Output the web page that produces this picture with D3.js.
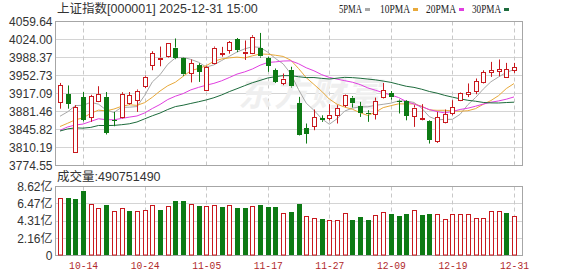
<!DOCTYPE html>
<html><head><meta charset="utf-8">
<script src="https://cdn.jsdelivr.net/npm/d3@7"></script>
<style>body{margin:0;background:#fff}svg{display:block}</style>
</head><body><svg id="c" width="578" height="276"></svg>
<script>
const dates = ["10-09","10-10","10-13","10-14","10-15","10-16","10-17","10-20","10-21","10-22","10-23","10-24","10-27","10-28","10-29","10-30","10-31",
"11-03","11-04","11-05","11-06","11-07","11-10","11-11","11-12","11-13","11-14","11-17","11-18","11-19","11-20","11-21","11-24","11-25","11-26","11-27","11-28",
"12-01","12-02","12-03","12-04","12-05","12-08","12-09","12-10","12-11","12-12","12-15","12-16","12-17","12-18","12-19","12-22","12-23","12-24","12-25","12-26","12-29","12-30","12-31"];
const open = [3900,3915.5,3802,3910,3870,3902.5,3910.4,3864.5,3870.7,3897.3,3905,3931.5,3973,3985.5,3991,4008,3986.4,3958,3973,3925,3977.7,3995,4003,4024.5,3998,3997.5,4007,3987,3963.5,3937,3964,3898.5,3848,3852.3,3868,3869.5,3874,3894,3909,3892,3879,3876,3910.4,3918.3,3903,3902.4,3872,3866,3862,3823.2,3861,3878.6,3903.8,3917,3922.3,3939,3959.8,3962,3950,3964.6];
const high = [3938,3933,3894,3920,3914.5,3931.5,3920,3880.6,3919.6,3920,3925,3952.5,4000.8,4010,4017,4026,3988,3984.4,3977,3971,4010,4009.4,4021,4027,4022,4032.5,4037,3990,3966.6,3956.7,3970,3910.4,3857.7,3885.4,3874,3896,3894,3915,3912,3900.5,3884,3909,3938,3922,3905,3904,3894,3896,3864,3880.6,3885.4,3903.8,3919,3937,3946.8,3963,3979.7,3984.4,3977.7,3977.7];
const low = [3887,3887,3800,3862,3861,3900,3836,3852.3,3868,3895,3880.6,3928,3963.2,3971,3988.3,3985,3952,3939,3940,3923,3975,3990,3996,3999,3983.5,3995,3988,3960,3938,3933.5,3929,3834,3818,3844.4,3861,3864,3857.7,3890,3889.3,3870.7,3861,3865.6,3907.2,3905,3877.5,3864,3851,3864,3818,3819.3,3858,3874,3902,3910,3915.7,3937,3950,3951.3,3948,3957.9];
const close = [3933.97,3897.03,3889.50,3865.23,3912.21,3916.23,3839.76,3863.89,3916.33,3913.76,3922.41,3950.31,3996.94,3988.22,4016.33,3986.90,3954.79,3976.52,3960.19,3969.25,4007.76,3997.56,4018.60,4002.76,4000.14,4029.50,3990.49,3972.03,3939.81,3946.74,3931.05,3834.89,3836.77,3870.02,3864.18,3875.26,3888.60,3914.01,3897.71,3878.00,3875.79,3902.81,3924.08,3909.52,3900.50,3873.32,3889.35,3867.92,3824.81,3870.28,3876.37,3890.45,3917.36,3919.98,3940.95,3959.62,3963.68,3965.28,3965.12,3968.84];
// volume in 亿
const volume = [7.21,7.21,7.08,8.0,6.46,5.96,6.25,5.5,5.96,5.5,5.58,5.71,6.33,5.71,6.13,6.75,6.75,6.46,6.13,6.13,6.25,6.0,6.33,5.88,5.88,6.13,6.25,6.0,6.0,5.33,5.38,6.38,4.96,4.71,4.58,4.46,4.46,5.33,4.46,4.83,4.46,5.0,5.46,5.21,4.96,5.21,5.71,5.0,5.13,5.13,4.58,5.13,5.21,5.21,4.71,4.71,5.58,5.58,5.25,4.9075149];
// 1 = up day (red), 0 = down day (green)
const volUp = [1,0,0,0,1,1,0,1,1,0,1,1,1,0,1,0,0,1,0,1,1,0,1,0,0,1,0,0,0,1,0,0,1,1,0,1,1,1,0,0,0,1,1,0,0,0,1,0,0,1,1,1,1,1,1,1,1,1,0,1];
const ma5 = [3872.1,3880.9,3893.2,3893.7,3899.6,3896.0,3884.6,3879.5,3889.7,3890.0,3891.2,3913.3,3940.0,3954.3,3974.8,3987.7,3988.6,3984.6,3979.0,3969.5,3973.7,3982.3,3990.7,3999.2,4005.4,4009.7,4008.3,3999.0,3986.4,3975.7,3956.0,3924.9,3897.9,3883.9,3867.4,3856.2,3867.0,3882.4,3888.0,3890.7,3890.8,3893.7,3895.7,3898.0,3902.5,3902.1,3899.4,3888.1,3871.2,3865.1,3865.8,3866.0,3875.9,3894.9,3909.0,3925.7,3940.3,3949.9,3958.9,3964.5];
const ma10 = [3851.7,3858.2,3865.1,3868.8,3877.8,3884.1,3882.7,3886.3,3891.7,3894.8,3893.6,3899.0,3909.7,3922.0,3932.4,3939.5,3951.0,3962.3,3966.6,3972.2,3980.7,3985.5,3987.6,3989.1,3987.5,3991.7,3995.3,3994.8,3992.8,3990.5,3982.9,3966.6,3948.4,3935.1,3921.6,3906.1,3895.9,3890.1,3885.9,3879.1,3873.5,3880.3,3889.1,3893.0,3896.6,3896.4,3896.5,3891.9,3884.6,3883.8,3883.9,3882.7,3882.0,3883.0,3887.1,3895.7,3903.1,3912.9,3926.9,3936.8];
const ma20 = [3844.3,3850.9,3854.7,3856.6,3861.9,3867.1,3865.3,3865.0,3867.7,3870.3,3872.6,3878.6,3887.4,3895.4,3905.1,3911.8,3916.9,3924.3,3929.2,3933.5,3937.2,3942.2,3948.7,3955.5,3959.9,3965.6,3973.1,3978.5,3979.7,3981.4,3981.8,3976.0,3968.0,3962.1,3954.5,3948.9,3945.6,3942.5,3939.4,3934.8,3928.2,3923.5,3918.7,3914.1,3909.1,3901.3,3896.2,3891.0,3885.3,3881.4,3878.7,3881.5,3885.5,3888.0,3891.9,3896.1,3899.8,3902.4,3905.8,3910.3];
const ma30 = [3842.8,3847.0,3849.1,3848.5,3850.0,3853.8,3853.7,3853.9,3855.3,3857.1,3860.7,3866.9,3873.0,3878.4,3885.4,3891.2,3893.9,3897.4,3900.7,3904.3,3908.7,3914.2,3920.8,3926.6,3932.6,3938.4,3943.0,3947.8,3950.4,3952.5,3952.4,3950.3,3948.6,3948.7,3947.1,3945.8,3947.4,3949.1,3948.5,3947.3,3945.7,3944.1,3941.7,3939.1,3935.2,3931.4,3929.2,3925.6,3921.1,3917.8,3913.4,3909.9,3906.5,3903.7,3901.8,3899.4,3898.5,3898.3,3899.2,3899.9];
const priceTicks = [4059.64,4024.00,3988.37,3952.73,3917.09,3881.46,3845.82,3810.19,3774.55];
const volTicks = [8.62,6.47,4.31,2.16,0];
const xTickDates = ["10-14","10-24","11-05","11-17","11-27","12-09","12-19","12-31"];
const maNames = ["5PMA","10PMA","20PMA","30PMA"];
const titleText = "上证指数[000001] 2025-12-31 15:00";
const volTitle = "成交量:490751490";

const RED = "#c8191e", GREEN = "#0d7a14";
const maColors = ["#a8a8a8","#e8a93a","#e03ee0","#1d6b3c"];
const maSeries = [ma5, ma10, ma20, ma30];

const svg = d3.select("#c");
const L = 55.5, R = 522.5, pT = 21.5, pB = 165.5, vT = 186.5, vB = 255.5;
const x = d3.scalePoint().domain(dates).range([60, 514]);
const y = d3.scaleLinear().domain([3774.55, 4059.64]).range([pB, pT]);
const yv = d3.scaleLinear().domain([0, 8.62]).range([vB, vT]);
const px = v => Math.round(v) + 0.5;

// horizontal grid
const g = svg.append("g");
g.selectAll("line.hp").data(priceTicks).join("line")
  .attr("x1", L).attr("x2", R).attr("y1", d => px(y(d)-0.5)).attr("y2", d => px(y(d)-0.5))
  .attr("stroke", "#d4d4d4");
g.selectAll("line.hv").data(volTicks).join("line").attr("class","hv")
  .attr("x1", L).attr("x2", R).attr("y1", d => px(yv(d)-0.5)).attr("y2", d => px(yv(d)-0.5))
  .attr("stroke", "#d4d4d4");
// vertical dashed grid
[[pT, pB],[vT, vB]].forEach(([a,b]) => {
  g.append("g").selectAll("line").data(xTickDates).join("line")
    .attr("x1", d => px(x(d))).attr("x2", d => px(x(d))).attr("y1", a).attr("y2", b)
    .attr("stroke", "#c8c8c8").attr("stroke-dasharray", "4,3");
});

// watermark
svg.append("text").attr("x", 238).attr("y", 106).text("东方财富")
  .attr("font-family", "Noto Sans CJK SC").attr("font-size", 34).attr("font-weight", "bold")
  .attr("font-style", "italic").attr("fill", "#efefef").attr("letter-spacing", 2);

// frames
svg.append("rect").attr("x", L).attr("y", pT).attr("width", R-L).attr("height", pB-pT)
  .attr("fill", "none").attr("stroke", "#a6a6a6");
svg.append("rect").attr("x", L).attr("y", vT).attr("width", R-L).attr("height", vB-vT)
  .attr("fill", "none").attr("stroke", "#a6a6a6");

// MA lines
maSeries.forEach((s, k) => {
  svg.append("path").datum(s)
    .attr("d", d3.line().x((d,i) => x(dates[i])).y(d => y(d)))
    .attr("fill", "none").attr("stroke", maColors[k]).attr("stroke-width", 1);
});

// candles
const idx = d3.range(dates.length);
const cg = svg.append("g");
idx.forEach(i => {
  const cx = px(x(dates[i]));
  const up = close[i] >= open[i];
  const col = up ? RED : GREEN;
  const top = y(Math.max(open[i], close[i])), bot = y(Math.min(open[i], close[i]));
  cg.append("line").attr("x1", cx).attr("x2", cx).attr("y1", y(high[i])).attr("y2", top).attr("stroke", col);
  cg.append("line").attr("x1", cx).attr("x2", cx).attr("y1", bot).attr("y2", y(low[i])).attr("stroke", col);
  if (up) {
    cg.append("rect").attr("x", cx-2).attr("y", Math.round(top)+0.5).attr("width", 4)
      .attr("height", Math.max(0.5, Math.round(bot) - Math.round(top)))
      .attr("fill", "#fff").attr("stroke", col);
  } else {
    cg.append("rect").attr("x", cx-2.5).attr("y", Math.round(top)).attr("width", 5)
      .attr("height", Math.max(1, Math.round(bot) - Math.round(top)))
      .attr("fill", col);
  }
});

// volume bars
const vg = svg.append("g");
idx.forEach(i => {
  const cx = px(x(dates[i]));
  const t = Math.round(yv(volume[i]));
  if (volUp[i]) {
    vg.append("rect").attr("x", cx-2).attr("y", t+0.5).attr("width", 4).attr("height", vB-0.5-(t+0.5))
      .attr("fill", "#fff").attr("stroke", RED);
  } else {
    vg.append("rect").attr("x", cx-2.5).attr("y", t).attr("width", 5).attr("height", vB-0.5-t)
      .attr("fill", GREEN);
  }
});

// axes
const styleAxis = (sel, size, color, family) => {
  sel.select(".domain").remove();
  sel.selectAll(".tick line").remove();
  sel.selectAll("text").attr("font-size", size).attr("fill", color).attr("font-family", family);
};
svg.append("g").attr("transform", `translate(${L},0)`)
  .call(d3.axisLeft(y).tickValues(priceTicks).tickFormat(d3.format(".2f")).tickSize(0).tickPadding(3))
  .call(s => styleAxis(s, 12, "#333", "Liberation Sans, Arial, sans-serif"));
svg.append("g").attr("transform", `translate(${L},0)`)
  .call(d3.axisLeft(yv).tickValues(volTicks).tickFormat(d => d === 0 ? "0" : d.toFixed(2) + "亿").tickSize(0).tickPadding(3))
  .call(s => styleAxis(s, 12, "#333", "Liberation Sans, Noto Sans CJK SC, sans-serif"));
svg.append("g").attr("transform", `translate(0,${vB})`)
  .call(d3.axisBottom(x).tickValues(xTickDates).tickSize(0).tickPadding(6))
  .call(s => styleAxis(s, 11, "#b0282a", "Liberation Mono, monospace"))
  .call(s => s.selectAll("text").attr("textLength", 29).attr("lengthAdjust", "spacingAndGlyphs"));

// title
svg.append("text").attr("x", 57).attr("y", 13).text(titleText)
  .attr("font-size", 12.5).attr("fill", "#333").attr("font-family", "Liberation Sans, Noto Sans CJK SC, sans-serif");
svg.append("text").attr("x", 57).attr("y", 181).text(volTitle)
  .attr("font-size", 12.5).attr("fill", "#333").attr("font-family", "Liberation Sans, Noto Sans CJK SC, sans-serif");

// legend
const legX = [339, 380, 426, 472];
const legW = [23, 30, 30, 29];
maNames.forEach((n, k) => {
  svg.append("text").attr("x", legX[k]).attr("y", 13).text(n)
    .attr("font-size", 12.5).attr("font-family", "Liberation Serif, serif").attr("fill", "#222")
    .attr("textLength", legW[k]).attr("lengthAdjust", "spacingAndGlyphs");
  svg.append("rect").attr("x", legX[k] + legW[k] + 3).attr("y", 8).attr("width", 5).attr("height", 3)
    .attr("fill", maColors[k]);
});
</script></body></html>
